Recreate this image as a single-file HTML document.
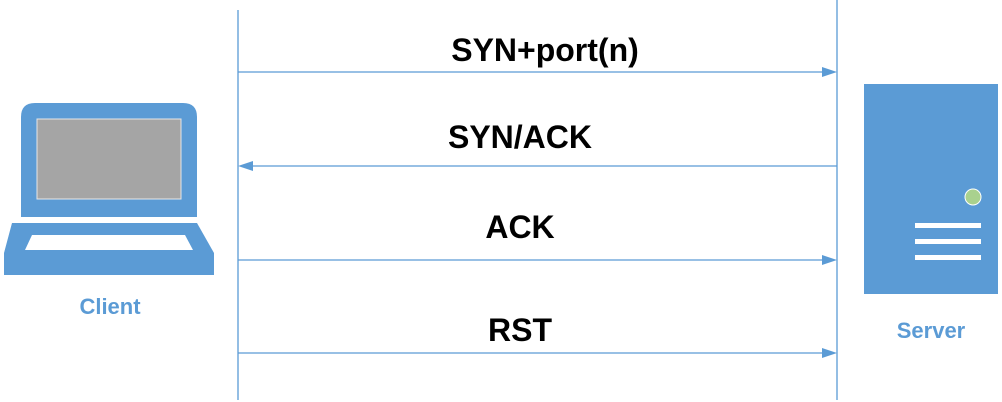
<!DOCTYPE html>
<html><head><meta charset="utf-8"><style>body{margin:0;background:#fff}svg{display:block}</style></head>
<body>
<svg width="1002" height="402" viewBox="0 0 1002 402" xmlns="http://www.w3.org/2000/svg">
<g>
<path d="M21,117 Q21,103 35,103 L183,103 Q197,103 197,117 L197,217 L21,217 Z" fill="#5b9bd5"/>
<rect x="37" y="119" width="144" height="80" fill="#a5a5a5" stroke="#e6e6e6" stroke-width="1"/>
<path d="M12,223 L197,223 L214,253 L214,275 L4,275 L4,253 Z" fill="#5b9bd5"/>
<path d="M32,235 L185,235 L193,250 L25,250 Z" fill="#fff"/>
</g>
<text x="110" y="314" text-anchor="middle" font-family="Liberation Sans, sans-serif" font-size="22" font-weight="bold" fill="#5b9bd5">Client</text>
<g>
<rect x="864" y="84" width="134" height="210" fill="#5b9bd5"/>
<circle cx="973" cy="197" r="8" fill="#a9d18e" stroke="#fff" stroke-width="1"/>
<rect x="915" y="223" width="66" height="5" fill="#fff"/>
<rect x="915" y="239" width="66" height="5" fill="#fff"/>
<rect x="915" y="255" width="66" height="5" fill="#fff"/>
</g>
<text x="931" y="338" text-anchor="middle" font-family="Liberation Sans, sans-serif" font-size="22" font-weight="bold" fill="#5b9bd5">Server</text>
<line x1="238" y1="10" x2="238" y2="400" stroke="#5b9bd5" stroke-width="1.3"/>
<line x1="837" y1="0" x2="837" y2="400" stroke="#5b9bd5" stroke-width="1.3"/>
<g stroke="#5b9bd5" stroke-width="1.3" fill="#5b9bd5">
<line x1="238" y1="72" x2="825" y2="72"/>
<polygon points="822,67 837,72 822,77" stroke="none"/>
<line x1="252" y1="166" x2="837" y2="166"/>
<polygon points="253,161 238,166 253,171" stroke="none"/>
<line x1="238" y1="260" x2="825" y2="260"/>
<polygon points="822,255 837,260 822,265" stroke="none"/>
<line x1="238" y1="353" x2="825" y2="353"/>
<polygon points="822,348 837,353 822,358" stroke="none"/>
</g>
<g font-family="Liberation Sans, sans-serif" font-size="32" font-weight="bold" fill="#000" text-anchor="middle">
<text x="545" y="61">SYN+port(n)</text>
<text x="520" y="148">SYN/ACK</text>
<text x="520" y="238">ACK</text>
<text x="520" y="341">RST</text>
</g>
</svg>
</body></html>
